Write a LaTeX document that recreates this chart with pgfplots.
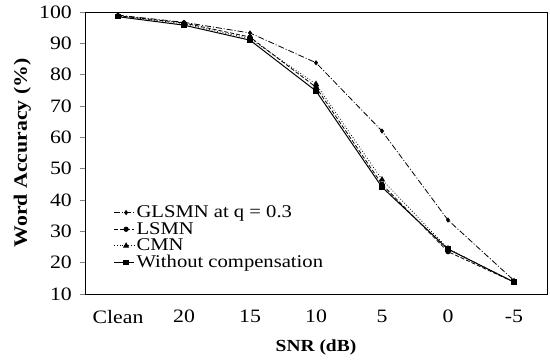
\documentclass[border=0pt]{standalone}
\usepackage{fontspec}
\setmainfont{Liberation Serif}[FakeStretch=1.15]
\usepackage{pgfplots}
\pgfplotsset{compat=1.18}
\begin{document}
\fontsize{15}{16}\selectfont
\begin{tikzpicture}
\begin{axis}[
  scale only axis,
  width=462bp, height=282bp,
  xmin=-0.5, xmax=6.5,
  ymin=10, ymax=100,
  ytick={10,20,...,100},
  xtick={0,1,2,3,4,5,6},
  xticklabels={Clean,20,15,10,5,0,-5},
  /pgf/number format/assume math mode=true,
  tick label style={font=\fontsize{19}{20}\selectfont},
  x tick style={draw=none},
  y tick style={draw=gray, line width=0.6pt},
  tick align=outside,
  major tick length=5bp,
  xtick pos=bottom, ytick pos=left,
  xticklabel style={yshift=-6bp},
  yticklabel style={xshift=-3bp},
  axis line style={line width=0.9pt},
  xlabel={\textbf{SNR (dB)}},
  ylabel={\textbf{Word Accuracy (\%)}},
  xlabel style={font=\fontsize{17}{18}\selectfont, yshift=-6bp},
  ylabel style={font=\fontsize{19}{20}\selectfont, yshift=-2bp},
  legend style={at={(0.055,0.07)}, anchor=south west, draw=none, fill=none,
    font=\fontsize{18}{18}\selectfont, row sep=-1.5bp,
    legend cell align=left},
  legend image code/.code={\draw[#1] (0bp,0bp) -- (20bp,0bp); \draw[#1, solid] plot coordinates {(12bp,0bp)};},
]
\addplot[black, line width=0.8pt, dash pattern=on 6pt off 2pt on 1pt off 2pt, mark=diamond*, mark size=2bp, mark options={solid}]
  coordinates {(0,99.0) (1,96.7) (2,93.3) (3,83.8) (4,62.0) (5,33.6) (6,14.3)};
\addlegendentry{GLSMN at q = 0.3}
\addplot[black, line width=0.8pt, dash pattern=on 4pt off 2pt, mark=*, mark size=2.2bp, mark options={solid}]
  coordinates {(0,98.8) (1,96.5) (2,92.0) (3,76.0) (4,45.0) (5,23.5) (6,13.8)};
\addlegendentry{LSMN}
\addplot[black, line width=0.8pt, dotted, mark=triangle*, mark size=2.8bp, mark options={solid}]
  coordinates {(0,98.8) (1,96.2) (2,91.5) (3,77.0) (4,46.5) (5,24.5) (6,13.8)};
\addlegendentry{CMN}
\addplot[black, line width=1pt, mark=square*, mark size=2.2bp, mark options={solid}]
  coordinates {(0,98.5) (1,95.8) (2,91.0) (3,74.8) (4,44.1) (5,24.3) (6,13.8)};
\addlegendentry{Without compensation}
\end{axis}
\path (current axis.south west) ++(-85bp,-68bp) coordinate (bba);
\path (current axis.north east) ++(3bp,12bp) coordinate (bbb);
\pgfresetboundingbox
\path[use as bounding box] (bba) rectangle (bbb);
\end{tikzpicture}
\end{document}
